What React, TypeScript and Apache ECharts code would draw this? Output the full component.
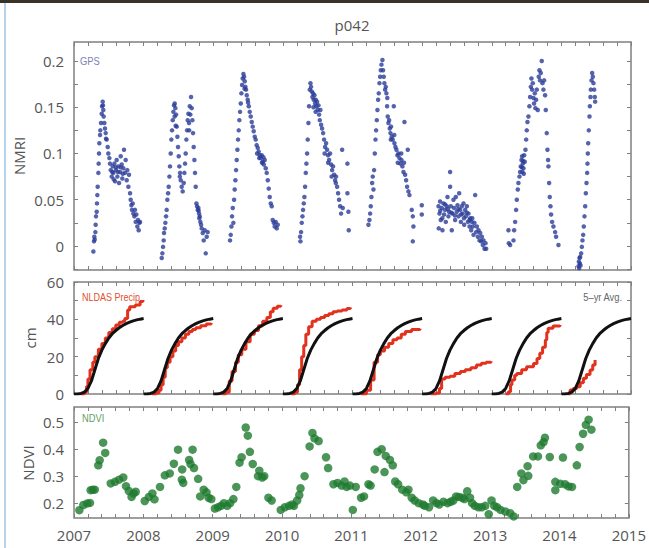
import React, { useEffect, useRef } from "react";
import * as echarts from "echarts";

// ---------- GPS NMRI (decimal year, NMRI) ----------
const gps2007: number[][] = [
  [2007.278, -0.006], [2007.287, 0.005], [2007.292, 0.01], [2007.297, 0.007], [2007.307, 0.015], [2007.311, 0.023],
  [2007.316, 0.032], [2007.326, 0.037], [2007.33, 0.046], [2007.335, 0.055], [2007.34, 0.064], [2007.35, 0.079],
  [2007.354, 0.089], [2007.359, 0.1], [2007.364, 0.111], [2007.374, 0.12], [2007.378, 0.125], [2007.388, 0.133],
  [2007.398, 0.143], [2007.402, 0.151], [2007.412, 0.156], [2007.417, 0.152], [2007.421, 0.147], [2007.426, 0.14],
  [2007.436, 0.133], [2007.445, 0.127], [2007.455, 0.122], [2007.46, 0.116], [2007.469, 0.115], [2007.484, 0.107],
  [2007.493, 0.1], [2007.508, 0.095], [2007.517, 0.089], [2007.527, 0.082], [2007.541, 0.075], [2007.556, 0.086],
  [2007.565, 0.079], [2007.58, 0.089], [2007.589, 0.07], [2007.603, 0.082], [2007.613, 0.093], [2007.623, 0.075],
  [2007.637, 0.086], [2007.647, 0.068], [2007.661, 0.08], [2007.671, 0.097], [2007.685, 0.088], [2007.694, 0.073],
  [2007.709, 0.084], [2007.718, 0.104], [2007.733, 0.079], [2007.742, 0.093], [2007.757, 0.071], [2007.766, 0.082],
  [2007.781, 0.064], [2007.79, 0.077], [2007.805, 0.057], [2007.814, 0.05], [2007.824, 0.044], [2007.833, 0.039],
  [2007.843, 0.046], [2007.852, 0.035], [2007.867, 0.032], [2007.876, 0.039], [2007.886, 0.026], [2007.895, 0.034],
  [2007.91, 0.021], [2007.919, 0.028], [2007.929, 0.017], [2007.939, 0.025], [2007.948, 0.026],
  [2007.55, 0.08], [2007.6, 0.085], [2007.63, 0.08], [2007.67, 0.085], [2007.7, 0.078], [2007.57, 0.072]
];
const gps2008: number[][] = [
  [2008.26, -0.013], [2008.269, -0.008], [2008.279, -0.001], [2008.288, 0.006], [2008.293, 0.014], [2008.303, 0.019],
  [2008.312, 0.025], [2008.322, 0.032], [2008.331, 0.039], [2008.341, 0.05], [2008.351, 0.057], [2008.36, 0.064],
  [2008.37, 0.075], [2008.379, 0.086], [2008.389, 0.1], [2008.398, 0.115], [2008.408, 0.125], [2008.418, 0.136],
  [2008.427, 0.145], [2008.437, 0.152], [2008.446, 0.154], [2008.456, 0.149], [2008.466, 0.142], [2008.475, 0.129],
  [2008.485, 0.118], [2008.494, 0.107], [2008.504, 0.097], [2008.513, 0.086], [2008.523, 0.079], [2008.533, 0.071],
  [2008.547, 0.064], [2008.561, 0.059], [2008.576, 0.068], [2008.585, 0.079], [2008.595, 0.089], [2008.604, 0.1],
  [2008.614, 0.115], [2008.624, 0.125], [2008.633, 0.136], [2008.643, 0.143], [2008.652, 0.133], [2008.662, 0.151],
  [2008.671, 0.142], [2008.681, 0.161], [2008.691, 0.149], [2008.7, 0.136], [2008.71, 0.122], [2008.719, 0.107],
  [2008.729, 0.093], [2008.738, 0.079], [2008.748, 0.064], [2008.758, 0.046], [2008.767, 0.043], [2008.777, 0.039],
  [2008.786, 0.041], [2008.796, 0.035], [2008.806, 0.032], [2008.815, 0.026], [2008.825, 0.023], [2008.834, 0.019],
  [2008.849, 0.014], [2008.863, 0.006], [2008.877, 0.017], [2008.892, -0.008], [2008.906, 0.01], [2008.92, 0.015],
  [2008.445, 0.14], [2008.46, 0.13], [2008.52, 0.075], [2008.655, 0.125], [2008.79, 0.038], [2008.8, 0.03]
];
const gps2009: number[][] = [
  [2009.241, 0.006], [2009.251, 0.012], [2009.261, 0.021], [2009.27, 0.032], [2009.28, 0.041], [2009.289, 0.025],
  [2009.299, 0.05], [2009.308, 0.061], [2009.318, 0.071], [2009.328, 0.082], [2009.337, 0.093], [2009.347, 0.104],
  [2009.356, 0.115], [2009.366, 0.125], [2009.375, 0.136], [2009.385, 0.145], [2009.395, 0.154], [2009.404, 0.165],
  [2009.414, 0.174], [2009.423, 0.181], [2009.433, 0.186], [2009.443, 0.183], [2009.452, 0.178], [2009.462, 0.172],
  [2009.471, 0.169], [2009.481, 0.163], [2009.495, 0.158], [2009.51, 0.151], [2009.524, 0.145], [2009.538, 0.14],
  [2009.553, 0.134], [2009.567, 0.129], [2009.581, 0.124], [2009.596, 0.118], [2009.61, 0.115], [2009.624, 0.109],
  [2009.639, 0.106], [2009.653, 0.102], [2009.668, 0.098], [2009.682, 0.095], [2009.696, 0.098], [2009.711, 0.091],
  [2009.725, 0.088], [2009.739, 0.093], [2009.754, 0.084], [2009.768, 0.079], [2009.783, 0.071], [2009.797, 0.062],
  [2009.811, 0.053], [2009.826, 0.046], [2009.84, 0.043], [2009.854, 0.028], [2009.869, 0.025], [2009.883, 0.021],
  [2009.897, 0.026], [2009.912, 0.019], [2009.926, 0.023],
  [2009.45, 0.17], [2009.5, 0.155], [2009.63, 0.1], [2009.66, 0.095], [2009.7, 0.09], [2009.72, 0.096]
];
const gps2010: number[][] = [
  [2010.247, 0.01], [2010.252, 0.005], [2010.261, 0.015], [2010.271, 0.025], [2010.281, 0.032], [2010.29, 0.039],
  [2010.3, 0.046], [2010.309, 0.053], [2010.319, 0.064], [2010.329, 0.079], [2010.338, 0.089], [2010.348, 0.1],
  [2010.357, 0.115], [2010.367, 0.133], [2010.376, 0.151], [2010.386, 0.169], [2010.396, 0.176], [2010.405, 0.172],
  [2010.415, 0.167], [2010.424, 0.161], [2010.434, 0.165], [2010.443, 0.158], [2010.453, 0.163], [2010.463, 0.154],
  [2010.472, 0.158], [2010.482, 0.151], [2010.491, 0.156], [2010.501, 0.147], [2010.511, 0.152], [2010.52, 0.142],
  [2010.53, 0.136], [2010.539, 0.147], [2010.549, 0.131], [2010.563, 0.127], [2010.578, 0.122], [2010.592, 0.115],
  [2010.606, 0.107], [2010.621, 0.111], [2010.635, 0.104], [2010.649, 0.098], [2010.664, 0.093], [2010.678, 0.1],
  [2010.693, 0.088], [2010.707, 0.082], [2010.721, 0.086], [2010.736, 0.077], [2010.75, 0.071], [2010.764, 0.075],
  [2010.779, 0.064], [2010.793, 0.057], [2010.807, 0.05], [2010.822, 0.043], [2010.836, 0.035], [2010.851, 0.104],
  [2010.86, 0.041], [2010.927, 0.089], [2010.927, 0.057], [2010.941, 0.037], [2010.946, 0.017],
  [2010.44, 0.15], [2010.47, 0.145], [2010.6, 0.1], [2010.65, 0.09], [2010.7, 0.075], [2010.76, 0.068]
];
const gps2011: number[][] = [
  [2011.229, 0.023], [2011.243, 0.028], [2011.253, 0.035], [2011.262, 0.043], [2011.272, 0.053], [2011.282, 0.068],
  [2011.291, 0.075], [2011.301, 0.061], [2011.31, 0.082], [2011.32, 0.1], [2011.33, 0.115], [2011.339, 0.125],
  [2011.349, 0.136], [2011.358, 0.147], [2011.368, 0.158], [2011.377, 0.165], [2011.387, 0.176], [2011.397, 0.183],
  [2011.406, 0.19], [2011.416, 0.196], [2011.43, 0.201], [2011.439, 0.19], [2011.449, 0.183], [2011.458, 0.176],
  [2011.468, 0.169], [2011.478, 0.172], [2011.487, 0.165], [2011.497, 0.151], [2011.506, 0.14], [2011.516, 0.133],
  [2011.526, 0.136], [2011.535, 0.127], [2011.545, 0.122], [2011.554, 0.129], [2011.564, 0.118], [2011.578, 0.115],
  [2011.593, 0.151], [2011.602, 0.111], [2011.617, 0.107], [2011.631, 0.104], [2011.645, 0.098], [2011.66, 0.1],
  [2011.674, 0.095], [2011.688, 0.089], [2011.703, 0.093], [2011.717, 0.086], [2011.732, 0.08], [2011.746, 0.134],
  [2011.756, 0.077], [2011.77, 0.071], [2011.784, 0.064], [2011.794, 0.104], [2011.803, 0.059], [2011.818, 0.055],
  [2011.851, 0.039], [2011.866, 0.032], [2011.875, 0.021], [2011.866, 0.005], [2011.995, 0.044], [2011.995, 0.034],
  [2011.5, 0.16], [2011.55, 0.115], [2011.6, 0.12], [2011.65, 0.09], [2011.7, 0.1], [2011.74, 0.09]
];
const gps2012: number[][] = [
  [2012.235, 0.043], [2012.239, 0.019], [2012.249, 0.035], [2012.258, 0.048], [2012.268, 0.028], [2012.282, 0.041],
  [2012.292, 0.017], [2012.306, 0.046], [2012.316, 0.034], [2012.33, 0.039], [2012.34, 0.026], [2012.354, 0.043],
  [2012.364, 0.053], [2012.378, 0.032], [2012.387, 0.037], [2012.402, 0.08], [2012.402, 0.064], [2012.412, 0.043],
  [2012.426, 0.017], [2012.436, 0.035], [2012.45, 0.05], [2012.46, 0.041], [2012.474, 0.028], [2012.484, 0.053],
  [2012.498, 0.037], [2012.508, 0.044], [2012.522, 0.032], [2012.532, 0.057], [2012.546, 0.039], [2012.556, 0.026],
  [2012.57, 0.043], [2012.58, 0.035], [2012.594, 0.046], [2012.604, 0.023], [2012.618, 0.039], [2012.628, 0.032],
  [2012.642, 0.043], [2012.657, 0.026], [2012.666, 0.035], [2012.681, 0.021], [2012.69, 0.03], [2012.705, 0.017],
  [2012.714, 0.026], [2012.728, 0.021], [2012.738, 0.012], [2012.752, 0.025], [2012.762, 0.055], [2012.776, 0.015],
  [2012.786, 0.021], [2012.8, 0.01], [2012.81, 0.017], [2012.824, 0.006], [2012.834, 0.014], [2012.848, 0.005],
  [2012.858, 0.01], [2012.872, 0.001], [2012.882, 0.006], [2012.896, -0.003], [2012.911, 0.003], [2012.92, -0.003],
  [2012.26, 0.038], [2012.29, 0.03], [2012.33, 0.045], [2012.37, 0.04], [2012.42, 0.036], [2012.47, 0.033],
  [2012.52, 0.04], [2012.56, 0.034], [2012.6, 0.03], [2012.64, 0.036], [2012.68, 0.028], [2012.72, 0.03]
];
const gps2013: number[][] = [
  [2013.24, 0.017], [2013.245, 0.003], [2013.264, 0.001], [2013.312, 0.006], [2013.321, 0.017], [2013.336, 0.026],
  [2013.35, 0.039], [2013.36, 0.05], [2013.374, 0.061], [2013.383, 0.068], [2013.398, 0.075], [2013.407, 0.08],
  [2013.417, 0.086], [2013.427, 0.093], [2013.436, 0.097], [2013.446, 0.089], [2013.455, 0.084], [2013.465, 0.098],
  [2013.474, 0.091], [2013.484, 0.104], [2013.494, 0.115], [2013.503, 0.125], [2013.513, 0.134], [2013.527, 0.14],
  [2013.541, 0.151], [2013.551, 0.161], [2013.561, 0.172], [2013.57, 0.181], [2013.58, 0.169], [2013.589, 0.176],
  [2013.599, 0.16], [2013.608, 0.154], [2013.618, 0.165], [2013.627, 0.149], [2013.637, 0.158], [2013.647, 0.169],
  [2013.661, 0.147], [2013.675, 0.183], [2013.685, 0.19], [2013.694, 0.179], [2013.704, 0.187], [2013.718, 0.2],
  [2013.728, 0.176], [2013.742, 0.169], [2013.752, 0.179], [2013.766, 0.163], [2013.776, 0.147], [2013.79, 0.122],
  [2013.8, 0.104], [2013.809, 0.093], [2013.814, 0.086], [2013.824, 0.068], [2013.833, 0.053], [2013.843, 0.043],
  [2013.852, 0.034], [2013.867, 0.026], [2013.886, 0.021], [2013.91, 0.015], [2013.924, 0.01], [2013.958, 0.001],
  [2013.43, 0.085], [2013.44, 0.08], [2013.45, 0.092], [2013.46, 0.078]
];
const gps2014: number[][] = [
  [2014.246, -0.022], [2014.251, -0.017], [2014.256, -0.024], [2014.26, -0.013], [2014.265, -0.019], [2014.27, -0.012],
  [2014.275, -0.021], [2014.284, -0.008], [2014.294, -0.001], [2014.303, 0.006], [2014.313, 0.012], [2014.322, 0.021],
  [2014.332, 0.032], [2014.342, 0.043], [2014.351, 0.057], [2014.361, 0.068], [2014.37, 0.079], [2014.375, 0.089],
  [2014.38, 0.1], [2014.385, 0.111], [2014.394, 0.125], [2014.404, 0.14], [2014.409, 0.151], [2014.418, 0.161],
  [2014.423, 0.169], [2014.433, 0.179], [2014.442, 0.187], [2014.452, 0.183], [2014.461, 0.176], [2014.471, 0.169],
  [2014.48, 0.161], [2014.485, 0.156]
];

// ---------- Precipitation (fraction of year, cm) ----------
const avg5yr: number[][] = [
  [0, 0], [0.05, 0], [0.1, 0.3], [0.15, 1], [0.2, 3], [0.25, 7], [0.3, 13], [0.35, 19], [0.4, 23.5], [0.45, 27],
  [0.5, 30], [0.55, 32.3], [0.6, 34], [0.65, 35.5], [0.7, 36.7], [0.75, 37.7], [0.8, 38.5], [0.85, 39.2], [0.9, 39.7],
  [0.95, 40.1], [1.0, 40.4]
];
const avgYears = [2007, 2008, 2009, 2010, 2011, 2012, 2013, 2014];
const precip2007: number[][] = [
  [0.1, 0], [0.15, 1], [0.18, 4], [0.2, 8], [0.23, 13], [0.27, 17], [0.3, 20], [0.35, 24],
  [0.4, 27], [0.45, 30], [0.5, 33], [0.55, 35], [0.6, 37], [0.65, 38.5], [0.7, 39], [0.73, 40.5], [0.77, 45],
  [0.8, 46.8], [0.88, 47.7], [0.95, 49.5], [0.99, 50.4]
];
const precip2008: number[][] = [
  [0.12, 0], [0.18, 0.5], [0.22, 2], [0.25, 5], [0.28, 9], [0.31, 14], [0.34, 17], [0.38, 20], [0.42, 23], [0.46, 26],
  [0.5, 28], [0.55, 30], [0.6, 32], [0.65, 33.5], [0.7, 34.5], [0.75, 35.5], [0.82, 36.5], [0.9, 37.5], [0.97, 38]
];
const precip2009: number[][] = [
  [0.12, 0], [0.18, 1], [0.23, 7], [0.27, 12], [0.32, 17], [0.36, 21], [0.41, 24], [0.47, 28], [0.53, 32], [0.59, 34],
  [0.65, 36.5], [0.71, 39], [0.77, 41], [0.82, 44], [0.86, 46], [0.92, 47], [0.97, 47.5]
];
const precip2010: number[][] = [
  [0.12, 0], [0.17, 1], [0.21, 5], [0.24, 13], [0.27, 20], [0.3, 26], [0.33, 32], [0.37, 36], [0.42, 39], [0.48, 40],
  [0.54, 41], [0.6, 42], [0.66, 43], [0.72, 44], [0.78, 44.5], [0.85, 45], [0.92, 45.8], [0.97, 46.3]
];
const precip2011: number[][] = [
  [0.12, 0], [0.2, 2], [0.26, 7.5], [0.31, 17], [0.36, 21], [0.4, 23], [0.46, 25], [0.52, 27], [0.58, 29], [0.64, 30],
  [0.7, 32], [0.76, 33.5], [0.85, 34.5], [0.97, 35]
];
const precip2012: number[][] = [
  [0.12, 0], [0.2, 0.5], [0.25, 3], [0.28, 8], [0.33, 9], [0.4, 9.5], [0.47, 11], [0.55, 12], [0.62, 13], [0.7, 14],
  [0.78, 15.5], [0.85, 16.5], [0.92, 17], [0.99, 17.5]
];
const precip2013: number[][] = [
  [0.2, 0], [0.24, 1.2], [0.27, 5], [0.29, 7.5], [0.33, 10], [0.36, 11], [0.43, 13], [0.5, 14.6], [0.6, 16.4],
  [0.65, 19], [0.69, 21.8], [0.73, 25], [0.77, 28.9], [0.79, 33], [0.81, 35.2], [0.88, 36.4], [0.98, 37]
];
const precip2014: number[][] = [
  [0.1, 0], [0.126, 2.1], [0.17, 3], [0.22, 3.9], [0.27, 6], [0.316, 8.4], [0.36, 10.5], [0.412, 12.9], [0.45, 15.5],
  [0.484, 18.2]
];
const precipYears: [number, number[][]][] = [
  [2007, precip2007], [2008, precip2008], [2009, precip2009], [2010, precip2010],
  [2011, precip2011], [2012, precip2012], [2013, precip2013], [2014, precip2014]
];

// ---------- NDVI (decimal year, NDVI) ----------
const ndvi: number[][] = [
  [2007.077, 0.174], [2007.134, 0.193], [2007.19, 0.199], [2007.23, 0.201], [2007.24, 0.248], [2007.3, 0.25],
  [2007.27, 0.25], [2007.35, 0.34], [2007.37, 0.359], [2007.42, 0.424], [2007.45, 0.386], [2007.53, 0.273],
  [2007.59, 0.279], [2007.65, 0.287], [2007.71, 0.295], [2007.75, 0.263], [2007.79, 0.245], [2007.83, 0.223],
  [2007.86, 0.236], [2007.89, 0.242],
  [2008.02, 0.208], [2008.08, 0.223], [2008.13, 0.236], [2008.16, 0.214], [2008.24, 0.26], [2008.31, 0.303],
  [2008.38, 0.31], [2008.44, 0.346], [2008.5, 0.398], [2008.555, 0.287], [2008.575, 0.275], [2008.56, 0.325],
  [2008.66, 0.36], [2008.68, 0.345], [2008.71, 0.398], [2008.73, 0.33], [2008.79, 0.29], [2008.82, 0.225],
  [2008.87, 0.25], [2008.91, 0.24], [2008.94, 0.22], [2008.98, 0.215],
  [2009.031, 0.18], [2009.078, 0.185], [2009.12, 0.19], [2009.162, 0.2], [2009.209, 0.19], [2009.251, 0.2],
  [2009.298, 0.215], [2009.34, 0.26], [2009.387, 0.35], [2009.417, 0.37], [2009.476, 0.48], [2009.506, 0.45],
  [2009.536, 0.39], [2009.577, 0.345], [2009.654, 0.3], [2009.672, 0.32], [2009.714, 0.295], [2009.743, 0.3],
  [2009.803, 0.22], [2009.85, 0.21],
  [2009.981, 0.175], [2010.04, 0.185], [2010.1, 0.19], [2010.147, 0.195], [2010.171, 0.19], [2010.218, 0.21],
  [2010.248, 0.23], [2010.266, 0.255], [2010.325, 0.3], [2010.397, 0.41], [2010.438, 0.46], [2010.468, 0.44],
  [2010.527, 0.43], [2010.634, 0.37], [2010.664, 0.33], [2010.741, 0.27], [2010.8, 0.275], [2010.86, 0.265],
  [2010.901, 0.28], [2010.931, 0.26], [2010.979, 0.265], [2011.02, 0.175], [2011.062, 0.26],
  [2011.139, 0.22], [2011.181, 0.225], [2011.246, 0.27], [2011.276, 0.265], [2011.335, 0.325], [2011.376, 0.39],
  [2011.436, 0.4], [2011.477, 0.315], [2011.495, 0.375], [2011.555, 0.36], [2011.596, 0.34], [2011.632, 0.28],
  [2011.673, 0.27], [2011.733, 0.25], [2011.792, 0.24], [2011.822, 0.25], [2011.869, 0.22], [2011.911, 0.21],
  [2011.97, 0.2], [2012.03, 0.195],
  [2012.059, 0.19], [2012.119, 0.185], [2012.178, 0.21], [2012.226, 0.2], [2012.267, 0.195], [2012.327, 0.205],
  [2012.386, 0.2], [2012.43, 0.205], [2012.47, 0.21], [2012.51, 0.225], [2012.55, 0.223], [2012.6, 0.22],
  [2012.63, 0.215], [2012.67, 0.244], [2012.71, 0.22], [2012.74, 0.2], [2012.78, 0.19], [2012.83, 0.185],
  [2012.88, 0.185], [2012.93, 0.19], [2012.98, 0.159], [2013.02, 0.21], [2013.06, 0.19], [2013.1, 0.185],
  [2013.15, 0.175], [2013.22, 0.169], [2013.29, 0.163], [2013.34, 0.151],
  [2013.39, 0.26], [2013.45, 0.31], [2013.48, 0.285], [2013.54, 0.337], [2013.55, 0.301], [2013.62, 0.373],
  [2013.69, 0.373], [2013.73, 0.414], [2013.77, 0.426], [2013.79, 0.442], [2013.86, 0.371], [2013.94, 0.279],
  [2013.94, 0.248], [2014.01, 0.272], [2014.05, 0.369], [2014.08, 0.27], [2014.13, 0.262], [2014.18, 0.26],
  [2014.25, 0.34], [2014.29, 0.408], [2014.34, 0.457], [2014.38, 0.49], [2014.42, 0.509], [2014.46, 0.472]
];

// ---------- Axis labels ----------
const yearLabels = [2007, 2008, 2009, 2010, 2011, 2012, 2013, 2014, 2015];
const nmriLabels = [0, 0.05, 0.1, 0.15, 0.2];
const cmLabels = [0, 20, 40, 60];
const ndviLabels = [0.2, 0.3, 0.4, 0.5];

const FONT = "'Open Sans', 'Noto Sans', sans-serif";
const SMALL = "'Liberation Sans', sans-serif";
const AXIS_GREY = "#808080";
const LABEL_GREY = "#555";

function range(a: number, b: number, step: number): number[] {
  const out: number[] = [];
  const n = Math.round((b - a) / step);
  for (let i = 0; i <= n; i++) out.push(Math.round((a + i * step) * 10000) / 10000);
  return out;
}

export default function App() {
  const ref = useRef<HTMLDivElement>(null);

  useEffect(() => {
    if (!ref.current) return;
    const chart = echarts.init(ref.current, null, { renderer: "svg" });

    const xTicks = range(2007, 2015, 0.2);
    const nmriTicks = range(-0.025, 0.2, 0.025);
    const cmTicks = range(0, 60, 10);
    const ndviTicks = ndviLabels;

    const fmt = (v: number) => String(Math.round(v * 1000) / 1000);

    const grids = [
      { left: 74, top: 42, width: 557, height: 228 },
      { left: 74, top: 282, width: 557, height: 112 },
      { left: 74, top: 407, width: 557, height: 111 }
    ].map((g) => ({ ...g, show: true, borderColor: AXIS_GREY, borderWidth: 1.5, backgroundColor: "#fff" }));

    const mkX = (gridIndex: number, position: string, showLabel: boolean) => ({
      type: "value",
      gridIndex,
      position,
      min: 2007,
      max: 2015,
      axisLine: { show: false, onZero: false },
      splitLine: { show: false },
      axisTick: { show: true, inside: true, length: 4, customValues: xTicks, lineStyle: { color: AXIS_GREY, width: 1 } },
      axisLabel: {
        show: showLabel,
        customValues: yearLabels,
        formatter: (v: number) => String(Math.round(v)),
        color: LABEL_GREY,
        fontSize: 15,
        fontFamily: FONT,
        margin: 9
      }
    });

    const mkY = (gridIndex: number, position: string, min: number, max: number, ticks: number[], labels: number[], showLabel: boolean) => ({
      type: "value",
      gridIndex,
      position,
      min,
      max,
      axisLine: { show: false, onZero: false },
      splitLine: { show: false },
      axisTick: { show: true, inside: true, length: 4, customValues: ticks, lineStyle: { color: AXIS_GREY, width: 1 } },
      axisLabel: {
        show: showLabel,
        customValues: labels,
        formatter: fmt,
        color: LABEL_GREY,
        fontSize: 15,
        fontFamily: FONT,
        margin: 10
      }
    });

    const xAxis = [
      mkX(0, "bottom", false), mkX(0, "top", false),
      mkX(1, "bottom", false), mkX(1, "top", false),
      mkX(2, "bottom", true), mkX(2, "top", false)
    ];
    const yAxis = [
      mkY(0, "left", -0.026, 0.2205, nmriTicks, nmriLabels, true), mkY(0, "right", -0.026, 0.2205, nmriTicks, nmriLabels, false),
      mkY(1, "left", 0, 60, cmTicks, cmLabels, true), mkY(1, "right", 0, 60, cmTicks, cmLabels, false),
      mkY(2, "left", 0.145, 0.556, ndviTicks, ndviLabels, true), mkY(2, "right", 0.145, 0.556, ndviTicks, ndviLabels, false)
    ];

    const gpsAll = [gps2007, gps2008, gps2009, gps2010, gps2011, gps2012, gps2013, gps2014];
    const series: any[] = [];
    gpsAll.forEach((d) => {
      series.push({
        type: "scatter",
        xAxisIndex: 0,
        yAxisIndex: 0,
        data: d,
        symbolSize: 4.5,
        itemStyle: { color: "#2b3c99" },
        silent: true
      });
    });
    precipYears.forEach(([yr, d]) => {
      series.push({
        type: "line",
        xAxisIndex: 2,
        yAxisIndex: 2,
        data: d.map(([t, v]) => [yr + t, v]),
        step: "end",
        showSymbol: false,
        lineStyle: { color: "#e2311d", width: 3 },
        z: 2,
        silent: true
      });
    });
    avgYears.forEach((yr) => {
      series.push({
        type: "line",
        xAxisIndex: 2,
        yAxisIndex: 2,
        data: avg5yr.map(([t, v]) => [yr + t, v]),
        showSymbol: false,
        lineStyle: { color: "#111", width: 3 },
        z: 3,
        silent: true
      });
    });
    series.push({
      type: "scatter",
      xAxisIndex: 4,
      yAxisIndex: 4,
      data: ndvi,
      symbolSize: 8.5,
      itemStyle: { color: "#1f7a30" },
      silent: true
    });

    const txt = (text: string, x: number, y: number, opts: any = {}) => ({
      type: "text",
      x,
      y,
      z: 100,
      rotation: opts.rotation || 0,
      scaleX: opts.scaleX || 1,
      style: {
        text,
        fill: opts.fill || LABEL_GREY,
        fontSize: opts.fontSize || 15,
        fontFamily: opts.fontFamily || FONT,
        textAlign: opts.align || "center",
        textVerticalAlign: "middle"
      }
    });

    const option: any = {
      animation: false,
      backgroundColor: "#fff",
      grid: grids,
      xAxis,
      yAxis,
      series,
      graphic: [
        { type: "rect", shape: { x: 0, y: 0, width: 649, height: 3 }, style: { fill: "#3a3226" }, z: 100 },
        { type: "line", shape: { x1: 5, y1: 3, x2: 5, y2: 548 }, style: { stroke: "#9cc3e4", lineWidth: 1.5 }, z: 100 },
        txt("p042", 352, 25, { fontSize: 15 }),
        txt("NMRI", 19, 156, { rotation: Math.PI / 2 }),
        txt("cm", 30, 338, { rotation: Math.PI / 2 }),
        txt("NDVI", 28, 463, { rotation: Math.PI / 2 }),
        txt("GPS", 80, 61, { align: "left", fill: "#7d7db8", fontSize: 11, fontFamily: SMALL, scaleX: 0.85 }),
        txt("NLDAS Precip.", 82, 297, { align: "left", fill: "#e2502c", fontSize: 11, fontFamily: SMALL, scaleX: 0.82 }),
        txt("5\u2013yr Avg.", 622, 297, { align: "right", fill: "#666", fontSize: 11, fontFamily: SMALL, scaleX: 0.85 }),
        txt("NDVI", 82, 418, { align: "left", fill: "#5f9f5f", fontSize: 11, fontFamily: SMALL, scaleX: 0.85 })
      ]
    };

    chart.setOption(option);
    return () => chart.dispose();
  }, []);

  return (
    <div
      ref={ref}
      style={{ position: "fixed", left: 0, top: 0, width: 649, height: 548, background: "#fff" }}
    />
  );
}
